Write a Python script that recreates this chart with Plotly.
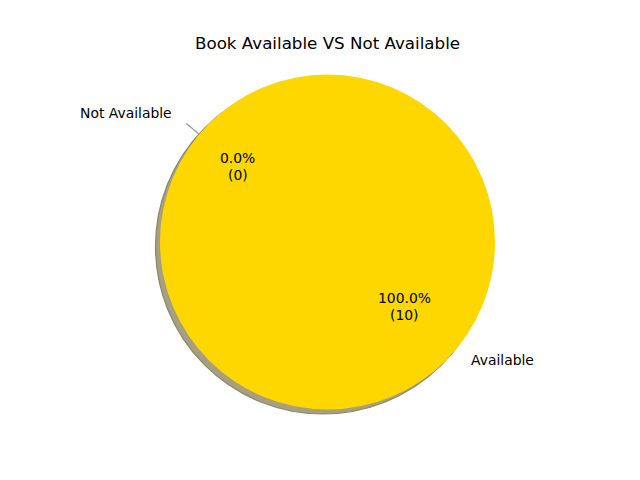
import math
import plotly.graph_objects as go

# Data
labels = ["Not Available", "Available"]
values = [0, 10]
colors = ["#d3d3d3", "#FFD700"]
explode = [0.1, 0.0]
start_angle = 140  # degrees, counterclockwise like matplotlib
title = "Book Available VS Not Available"

W, H = 640, 480
CX, CY = 327.5, 242.0   # pie centre in pixels (from top)
R = 167.5               # radius in pixels
SHADOW_DX, SHADOW_DY = -4.5, 4.5
LINE_GAP = 16.5         # px between the two lines of the percentage text

def px_to_paper(x, y):
    return x / W, 1 - y / H

def domain(cx, cy):
    x0, y1 = px_to_paper(cx - R, cy - R)
    x1, y0 = px_to_paper(cx + R, cy + R)
    return dict(x=[x0, x1], y=[y0, y1])

fig = go.Figure()

# shadow
fig.add_trace(go.Pie(
    labels=labels, values=values, sort=False, direction="counterclockwise",
    marker=dict(colors=["#a6a080", "#a6a080"], line=dict(color="#8c8668", width=1.2)),
    textinfo="none", hoverinfo="skip", showlegend=False,
    domain=domain(CX + SHADOW_DX, CY + SHADOW_DY),
))
# main pie
fig.add_trace(go.Pie(
    labels=labels, values=values, sort=False, direction="counterclockwise",
    marker=dict(colors=colors, line=dict(width=0)),
    textinfo="none", hoverinfo="label+value+percent", showlegend=False,
    domain=domain(CX, CY),
))

font = dict(family="DejaVu Sans", size=13.9, color="black")
total = sum(values)
annotations = []
shapes = []
theta = start_angle
for lab, val, exp in zip(labels, values, explode):
    span = 360.0 * val / total
    mid = math.radians(theta + span / 2)
    ca, sa = math.cos(mid), math.sin(mid)
    # percentage text at 0.6 r from (exploded) centre
    pr = (exp + 0.6) * R
    px_, py_ = CX + pr * ca, CY - pr * sa
    pct = 100.0 * val / total
    for txt, dy in ((f"{pct:.1f}%", -LINE_GAP / 2), (f"({val})", LINE_GAP / 2)):
        x, y = px_to_paper(px_, py_ + dy)
        annotations.append(dict(
            x=x, y=y, xref="paper", yref="paper", showarrow=False,
            text=txt, xanchor="center", yanchor="middle", font=font,
        ))
    # label at 1.1 r
    lr = (exp + 1.1) * R
    x, y = px_to_paper(CX + lr * ca, CY - lr * sa)
    annotations.append(dict(
        x=x, y=y, xref="paper", yref="paper", showarrow=False, text=lab,
        xanchor="left" if ca > 0 else "right", yanchor="middle", font=font,
    ))
    if span == 0:
        r0, r1 = R, (exp + 1.0) * R
        x0, y0 = px_to_paper(CX + r0 * ca, CY - r0 * sa)
        x1, y1 = px_to_paper(CX + r1 * ca, CY - r1 * sa)
        shapes.append(dict(type="line", xref="paper", yref="paper",
                           x0=x0, y0=y0, x1=x1, y1=y1,
                           line=dict(color="#9a9a8c", width=1.2)))
    theta += span

annotations.append(dict(
    x=327.5 / W, y=1 - 43 / H, xref="paper", yref="paper", showarrow=False,
    text=title, xanchor="center", yanchor="middle",
    font=dict(family="DejaVu Sans", size=16.7, color="black"),
))

fig.update_layout(
    width=W, height=H, margin=dict(l=0, r=0, t=0, b=0),
    paper_bgcolor="white", plot_bgcolor="white",
    annotations=annotations, shapes=shapes,
)

fig.write_html("out.html")
